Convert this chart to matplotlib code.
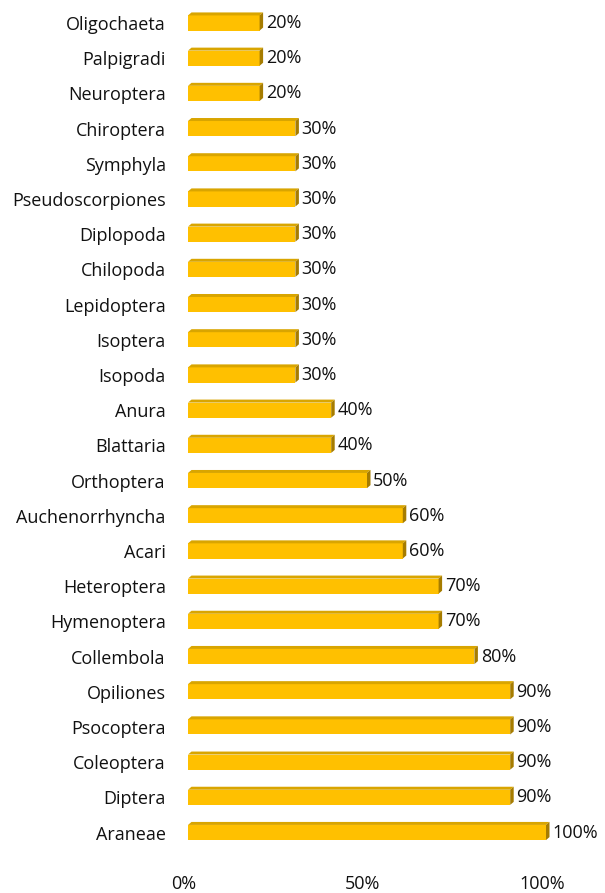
import matplotlib
matplotlib.use("Agg")
import matplotlib.pyplot as plt
from matplotlib.patches import Polygon
from matplotlib.transforms import ScaledTranslation

plt.rcParams['font.family'] = ['Open Sans', 'DejaVu Sans']

categories = [
    "Oligochaeta", "Palpigradi", "Neuroptera", "Chiroptera", "Symphyla",
    "Pseudoscorpiones", "Diplopoda", "Chilopoda", "Lepidoptera", "Isoptera",
    "Isopoda", "Anura", "Blattaria", "Orthoptera", "Auchenorrhyncha", "Acari",
    "Heteroptera", "Hymenoptera", "Collembola", "Opiliones", "Psocoptera",
    "Coleoptera", "Diptera", "Araneae",
]
values = [20, 20, 20, 30, 30, 30, 30, 30, 30, 30, 30, 40, 40, 50, 60, 60,
          70, 70, 80, 90, 90, 90, 90, 100]
tick_values = [0, 50, 100]
tick_labels = ["0%", "50%", "100%"]

W, H = 605, 893
fig = plt.figure(figsize=(W / 100, H / 100), dpi=100)
ax = fig.add_axes([188 / W, 1 - 850.1 / H, (546 - 188) / W, (850.1 - 5.4) / H])

front = "#FFC000"
top_c = "#D9A500"
side_c = "#A67C00"
bar_h = 0.43
dx = 3.5 / 358 * 100      # depth offset in x (data units)
dy = 3.0 / 35.2           # depth offset in y (rows)
fs = 13

ys = list(range(len(categories)))
ax.barh(ys, values, height=bar_h, color=front, edgecolor="none", zorder=3, clip_on=False)

for y, v in zip(ys, values):
    y_top = y - bar_h / 2
    y_bot = y + bar_h / 2
    # top face
    ax.add_patch(Polygon([(0, y_top), (v, y_top), (v + dx, y_top - dy), (dx, y_top - dy)],
                         closed=True, facecolor=top_c, edgecolor="none", zorder=3,
                         clip_on=False))
    # side face
    ax.add_patch(Polygon([(v, y_top), (v + dx, y_top - dy), (v + dx, y_bot - dy), (v, y_bot)],
                         closed=True, facecolor=side_c, edgecolor="none", zorder=3,
                         clip_on=False))
    ax.annotate(f"{v}%", xy=(v + dx, y), xytext=(2, 0), textcoords="offset points",
                ha="left", va="center", fontsize=fs, color="#111111",
                annotation_clip=False)

ax.set_xlim(0, 100)
ax.set_ylim(len(categories) - 0.5, -0.5)
ax.set_yticks(ys)
ax.set_yticklabels(categories, fontsize=fs, color="#111111")
ax.set_xticks(tick_values)
ax.set_xticklabels(tick_labels, fontsize=fs, color="#111111")
ax.tick_params(axis="both", length=0)
ax.tick_params(axis="y", pad=16)
ax.tick_params(axis="x", pad=18)
shift = ScaledTranslation(-4 / 100, 0, fig.dpi_scale_trans)
for lab in ax.get_xticklabels():
    lab.set_transform(lab.get_transform() + shift)
for s in ax.spines.values():
    s.set_visible(False)
ax.patch.set_alpha(0)

fig.savefig("out.png", dpi=100)
